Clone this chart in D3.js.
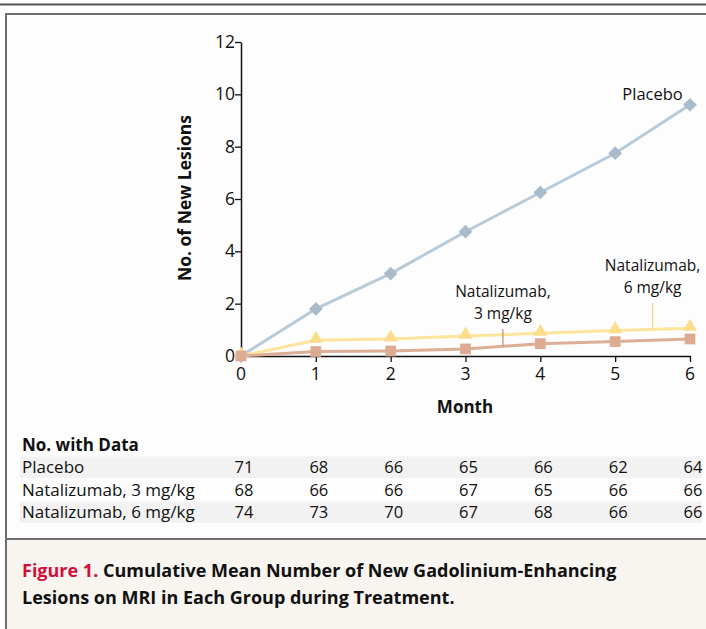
<!DOCTYPE html>
<html><head><meta charset="utf-8">
<script src="https://cdn.jsdelivr.net/npm/d3@7"></script>
<style>
html,body{margin:0;padding:0;background:#fff;}
svg{display:block;font-family:"Open Sans",sans-serif;}
</style></head>
<body>
<script>
const months = [0,1,2,3,4,5,6];
const yTicks = [0,2,4,6,8,10,12];
const placebo = [0,1.8,3.15,4.75,6.25,7.75,9.6];
const nat6 = [0,0.6,0.65,0.76,0.87,0.97,1.06];
const nat3 = [0,0.17,0.19,0.27,0.47,0.55,0.65];
const tableRows = ["Placebo","Natalizumab, 3 mg/kg","Natalizumab, 6 mg/kg"];
const countsPlacebo = [71,68,66,65,66,62,64];
const counts3 = [68,66,66,67,65,66,66];
const counts6 = [74,73,70,67,68,66,66];
const tableTitle = "No. with Data";
const captionLead = "Figure 1.";
const captionLine1 = " Cumulative Mean Number of New Gadolinium-Enhancing";
const captionLine2 = "Lesions on MRI in Each Group during Treatment.";

const W=706,H=629;
const svg=d3.select("body").append("svg").attr("width",W).attr("height",H);

// frame
svg.append("rect").attr("x",0).attr("y",0).attr("width",W).attr("height",H).attr("fill","#fff");
svg.append("line").attr("x1",0).attr("x2",W).attr("y1",4.5).attr("y2",4.5).attr("stroke","#555").attr("stroke-width",2);
svg.append("rect").attr("x",6).attr("y",14).attr("width",W+10).attr("height",H).attr("fill","#fdfdfd").attr("stroke","#6e6e6e").attr("stroke-width",2);
svg.append("rect").attr("x",6).attr("y",539).attr("width",W+10).attr("height",H).attr("fill","#f8f5f0").attr("stroke","#6e6e6e").attr("stroke-width",2);

const x=d3.scaleLinear().domain([0,6]).range([241,690]);
const y=d3.scaleLinear().domain([0,12]).range([356,42]);

// axes (lines via d3.axis, labels placed from the same scales)
const gx=svg.append("g").attr("transform","translate(0,356)")
  .call(d3.axisBottom(x).tickValues(months).tickFormat(()=>"").tickSize(6).tickSizeOuter(0));
const gy=svg.append("g").attr("transform","translate(241,0)")
  .call(d3.axisLeft(y).tickValues(yTicks).tickFormat(()=>"").tickSize(6).tickSizeOuter(0));
[gx,gy].forEach(g=>{
  g.select(".domain").attr("stroke","#111").attr("stroke-width",1.5);
  g.selectAll(".tick line").attr("stroke","#111").attr("stroke-width",1.3);
});
svg.append("g").selectAll("text").data(months).enter().append("text")
  .attr("x",d=>x(d)).attr("y",380).attr("text-anchor","middle")
  .attr("font-size",17.5).attr("fill","#111").text(d=>d);
svg.append("g").selectAll("text").data(yTicks).enter().append("text")
  .attr("x",235).attr("y",d=>y(d)+6).attr("text-anchor","end")
  .attr("font-size",17.5).attr("fill","#111").text(d=>d);

svg.append("text").attr("x",465).attr("y",413).attr("text-anchor","middle")
  .attr("font-weight","bold").attr("font-size",17).attr("fill","#111").text("Month");
svg.append("text").attr("transform","translate(191,198) rotate(-90)").attr("text-anchor","middle")
  .attr("font-weight","bold").attr("font-size",17.5).attr("fill","#111").text("No. of New Lesions");

// series
const line=d3.line().x((d,i)=>x(months[i])).y(d=>y(d));
const series=[
  {vals:placebo,color:"#b9cad8",mk:"#aabccb",sym:d3.symbolSquare,size:95,rot:45},
  {vals:nat6,color:"#fde59b",mk:"#fbdd8c",sym:d3.symbolTriangle,size:85,rot:0},
  {vals:nat3,color:"#dcae96",mk:"#dcab92",sym:d3.symbolSquare,size:115,rot:0}
];
series.forEach(s=>{
  svg.append("path").attr("d",line(s.vals)).attr("fill","none").attr("stroke",s.color).attr("stroke-width",3);
});
series.forEach(s=>{
  svg.selectAll(null).data(s.vals).enter().append("path")
    .attr("d",d3.symbol().type(s.sym).size(s.size))
    .attr("transform",(d,i)=>`translate(${x(months[i])},${y(d)-(s.sym===d3.symbolTriangle?1.5:0)}) rotate(${s.rot})`)
    .attr("fill",s.mk);
});

// labels
const interp=(arr,m)=>{const i=Math.floor(m);return arr[i]+(arr[i+1]-arr[i])*(m-i);};
const lab=(t,xx,yy,fs)=>svg.append("text").attr("x",xx).attr("y",yy).attr("text-anchor","middle").attr("font-size",fs||15.5).attr("fill","#111").text(t);
lab("Placebo",x(5.5),100,16.5);
svg.append("line").attr("x1",x(3.5)).attr("x2",x(3.5)).attr("y1",329).attr("y2",y(interp(nat3,3.5))).attr("stroke","#c9957c").attr("stroke-width",1.3);
lab("Natalizumab,",x(3.5),297);
lab("3 mg/kg",x(3.5),318.5);
svg.append("line").attr("x1",x(5.5)).attr("x2",x(5.5)).attr("y1",303).attr("y2",y(interp(nat6,5.5))).attr("stroke","#f5d77e").attr("stroke-width",1.3);
lab("Natalizumab,",x(5.5),271);
lab("6 mg/kg",x(5.5),292.5);

// table
svg.append("text").attr("x",22).attr("y",451).attr("font-weight","bold").attr("font-size",17).attr("fill","#111").text(tableTitle);
const allCounts=[countsPlacebo,counts3,counts6];
const rowY=[467,490,512];
tableRows.forEach((r,k)=>{
  if(k!==1) svg.append("rect").attr("x",20).attr("y",rowY[k]-10.5).attr("width",682).attr("height",21.5).attr("fill","#f2f2f2");
  svg.append("text").attr("x",22).attr("y",rowY[k]+6).attr("font-size",17).attr("fill","#111").text(r);
  svg.selectAll(null).data(allCounts[k]).enter().append("text")
    .attr("x",(d,i)=>x(months[i])+3).attr("y",rowY[k]+6).attr("text-anchor","middle")
    .attr("font-size",16.5).attr("fill","#111").text(d=>d);
});

// caption
const cap=svg.append("text").attr("x",22).attr("y",577).attr("font-weight","bold").attr("font-size",18).attr("fill","#111");
cap.append("tspan").attr("fill","#d0103a").text(captionLead);
cap.append("tspan").text(captionLine1);
svg.append("text").attr("x",22).attr("y",604).attr("font-weight","bold").attr("font-size",18).attr("fill","#111").text(captionLine2);
</script>
</body></html>
